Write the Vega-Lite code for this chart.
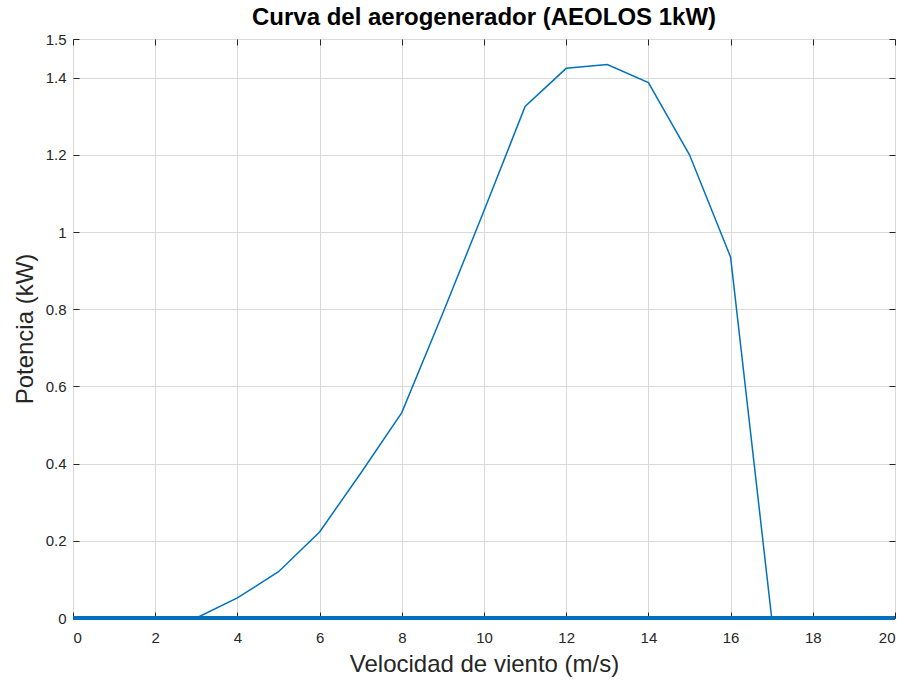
{
  "$schema": "https://vega.github.io/schema/vega-lite/v6.json",
  "width": 822,
  "height": 579,
  "padding": {"left": 13, "top": 6, "right": 11, "bottom": 3},
  "background": "white",
  "config": {
    "font": "Liberation Sans",
    "view": {"stroke": "#262626", "strokeWidth": 1},
    "axis": {
      "labelFont": "Liberation Sans",
      "titleFont": "Liberation Sans",
      "labelColor": "#262626",
      "titleColor": "#262626",
      "labelFontSize": 15,
      "titleFontSize": 24,
      "titleFontWeight": "normal",
      "domain": false,
      "tickColor": "#262626",
      "tickSize": -6,
      "tickWidth": 1,
      "gridColor": "#d9d9d9",
      "gridWidth": 1
    }
  },
  "title": {
    "text": "Curva del aerogenerador (AEOLOS 1kW)",
    "font": "Liberation Sans",
    "fontSize": 24,
    "fontWeight": "bold",
    "color": "#000000",
    "offset": 2
  },
  "data": {
    "values": [
      {"v": 0, "p": 0},
      {"v": 1, "p": 0},
      {"v": 2, "p": 0},
      {"v": 3, "p": 0},
      {"v": 4, "p": 0.052},
      {"v": 5, "p": 0.12},
      {"v": 6, "p": 0.223},
      {"v": 7, "p": 0.375},
      {"v": 8, "p": 0.532},
      {"v": 9, "p": 0.79},
      {"v": 10, "p": 1.055},
      {"v": 11, "p": 1.325},
      {"v": 12, "p": 1.424},
      {"v": 13, "p": 1.434},
      {"v": 14, "p": 1.387},
      {"v": 15, "p": 1.2},
      {"v": 16, "p": 0.935},
      {"v": 17, "p": 0},
      {"v": 18, "p": 0},
      {"v": 19, "p": 0},
      {"v": 20, "p": 0}
    ]
  },
  "layer": [
    {
      "mark": {"type": "line", "color": "#0072BD", "strokeWidth": 1.5, "clip": true},
      "encoding": {
        "x": {
          "field": "v", "type": "quantitative",
          "scale": {"domain": [0, 20], "nice": false},
          "axis": {"values": [0, 2, 4, 6, 8, 10, 12, 14, 16, 18, 20], "title": "Velocidad de viento (m/s)", "titlePadding": 7, "labelPadding": 18}
        },
        "y": {
          "field": "p", "type": "quantitative",
          "scale": {"domain": [0, 1.5], "nice": false},
          "axis": {"values": [0, 0.2, 0.4, 0.6, 0.8, 1, 1.2, 1.4, 1.5], "format": "~g", "title": "Potencia (kW)", "titlePadding": 8, "labelPadding": 13}
        }
      }
    },
    {
      "mark": {"type": "rule", "color": "#0072BD", "strokeWidth": 2.5},
      "encoding": {
        "y": {"datum": 0, "type": "quantitative", "scale": {"domain": [0, 1.5], "nice": false},
          "axis": {"orient": "right", "labels": false, "grid": false, "title": null, "values": [0, 0.2, 0.4, 0.6, 0.8, 1, 1.2, 1.4, 1.5]}},
        "x": {"datum": 0, "type": "quantitative", "scale": {"domain": [0, 20], "nice": false},
          "axis": {"orient": "top", "labels": false, "grid": false, "title": null, "values": [0, 2, 4, 6, 8, 10, 12, 14, 16, 18, 20]}},
        "x2": {"datum": 20}
      }
    }
  ],
  "resolve": {"axis": {"x": "independent", "y": "independent"}}
}
